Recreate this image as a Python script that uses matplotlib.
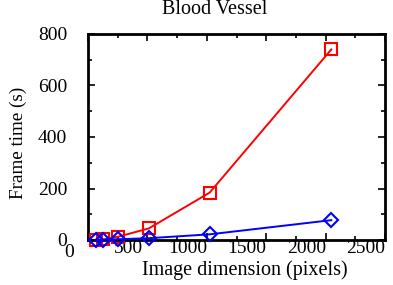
import matplotlib
matplotlib.use("Agg")
import matplotlib.pyplot as plt
import matplotlib.transforms as mtransforms
from matplotlib.ticker import MultipleLocator

plt.rcParams['font.family'] = ['Liberation Serif', 'DejaVu Serif']

dims = [64, 128, 256, 512, 1024, 2048]
red_times = [1, 2, 13, 45, 184, 740]
blue_times = [0.5, 1, 3, 7, 22, 77]
xticks = [0, 500, 1000, 1500, 2000, 2500]
yticks = [0, 200, 400, 600, 800]

fig = plt.figure(figsize=(3.93, 2.85), dpi=100)
ax = fig.add_axes([88/393, 45/285, 297/393, 206/285])

ax.plot(dims, red_times, color='#ff0000', lw=1.4, marker='s', ms=9,
        mfc='none', mec='#ff0000', mew=1.5, clip_on=False, zorder=3)
ax.plot(dims, blue_times, color='#0000ff', lw=1.4, marker='D', ms=7.5,
        mfc='none', mec='#0000ff', mew=1.5, clip_on=False, zorder=4)

ax.set_xlim(0, 2500)
ax.set_ylim(0, 800)
ax.set_xticks(xticks)
ax.set_yticks(yticks)
ax.set_xticklabels([str(v) for v in xticks])
ax.set_yticklabels([str(v) for v in yticks])
ax.xaxis.set_minor_locator(MultipleLocator(250))
ax.yaxis.set_minor_locator(MultipleLocator(100))
ax.tick_params(which='both', direction='in', top=True, right=True, width=1.2)
ax.tick_params(which='major', length=5)
ax.tick_params(which='minor', length=3)
ax.tick_params(axis='x', labelsize=14, pad=0)
ax.tick_params(axis='y', labelsize=14, pad=15)
for s in ax.spines.values():
    s.set_linewidth(2)

# shift x tick labels left as in reference
off = mtransforms.ScaledTranslation(-19/100, 0, fig.dpi_scale_trans)
for lab in ax.get_xticklabels():
    lab.set_transform(lab.get_transform() + off)
off0 = mtransforms.ScaledTranslation(0, -4/100, fig.dpi_scale_trans)
lab0 = ax.get_xticklabels()[0]
lab0.set_transform(lab0.get_transform() + off0)

ax.set_xlabel('Image dimension (pixels)', fontsize=14.5)
ax.xaxis.set_label_coords((245-88)/297, -(270-240)/206)
ax.xaxis.label.set_va('center')
ax.set_ylabel('Frame time (s)', fontsize=13.8)
ax.yaxis.set_label_coords(-(88-18)/297, (240-143)/206)
ax.yaxis.label.set_va('center')

fig.text(215/393, 1-10/285, 'Blood Vessel', ha='center', va='center', fontsize=14.5)

fig.savefig('out.png', dpi=100)
